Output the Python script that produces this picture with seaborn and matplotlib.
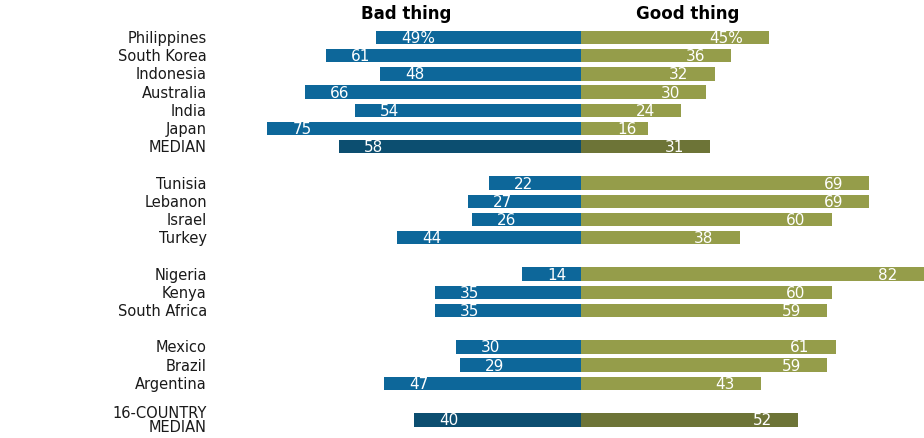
import matplotlib
matplotlib.use("Agg")
import matplotlib.pyplot as plt
import seaborn as sns
import pandas as pd

# Survey results: share saying growing trade ties are a bad / good thing
countries = ["Philippines", "South Korea", "Indonesia", "Australia", "India", "Japan", "MEDIAN",
             "Tunisia", "Lebanon", "Israel", "Turkey",
             "Nigeria", "Kenya", "South Africa",
             "Mexico", "Brazil", "Argentina",
             "16-COUNTRY\nMEDIAN"]
bad_thing = [49, 61, 48, 66, 54, 75, 58,
             22, 27, 26, 44,
             14, 35, 35,
             30, 29, 47,
             40]
good_thing = [45, 36, 32, 30, 24, 16, 31,
              69, 69, 60, 38,
              82, 60, 59,
              61, 59, 43,
              52]
is_median = [False] * 6 + [True] + [False] * 10 + [True]
# row slots, leaving an empty slot between regional groups
row_pos = [0, 1, 2, 3, 4, 5, 6,
           8, 9, 10, 11,
           13, 14, 15,
           17, 18, 19,
           21]

BLUE, BLUE_DARK = "#0d679a", "#0c4e70"
OLIVE, OLIVE_DARK = "#959d4a", "#6d7437"

df = pd.DataFrame({
    "country": countries,
    "pos": row_pos,
    "bad": [-v for v in bad_thing],
    "good": good_thing,
    "kind": ["median" if m else "country" for m in is_median],
})

sns.set_theme(style="white")
plt.rcParams["font.family"] = ["DejaVu Sans"]

fig = plt.figure(figsize=(9.24, 4.39), dpi=100)
ax = fig.add_axes([0, 0, 1, 1])

sns.barplot(data=df, x="bad", y="pos", hue="kind", orient="h", native_scale=True,
            dodge=False, width=0.74, saturation=1,
            palette={"country": BLUE, "median": BLUE_DARK},
            edgecolor="none", linewidth=0, legend=False, ax=ax)
sns.barplot(data=df, x="good", y="pos", hue="kind", orient="h", native_scale=True,
            dodge=False, width=0.74, saturation=1,
            palette={"country": OLIVE, "median": OLIVE_DARK},
            edgecolor="none", linewidth=0, legend=False, ax=ax)

ax.set_xlim(-139, 82.1)
ax.set_ylim(22.0, -2.115)
ax.axis("off")

label_fs = 10.5
value_fs = 11
for name, y, b, g in zip(countries, row_pos, bad_thing, good_thing):
    first = y == 0
    ax.text(-89.5, y, name, ha="right", va="center", fontsize=label_fs, color="#1a1a1a",
            linespacing=0.95)
    ax.text(-b + 6.0, y, f"{b}%" if first else f"{b}", ha="left", va="center",
            fontsize=value_fs, color="white")
    ax.text(max(g - 6.3, 13.4), y, f"{g}%" if first else f"{g}", ha="right", va="center",
            fontsize=value_fs, color="white")

ax.text(-41.9, -1.35, "Bad thing", ha="center", va="center", fontsize=12,
        fontweight="heavy", color="black")
ax.text(25.6, -1.35, "Good thing", ha="center", va="center", fontsize=12,
        fontweight="heavy", color="black")

fig.savefig("out.png", dpi=100, facecolor="white")
